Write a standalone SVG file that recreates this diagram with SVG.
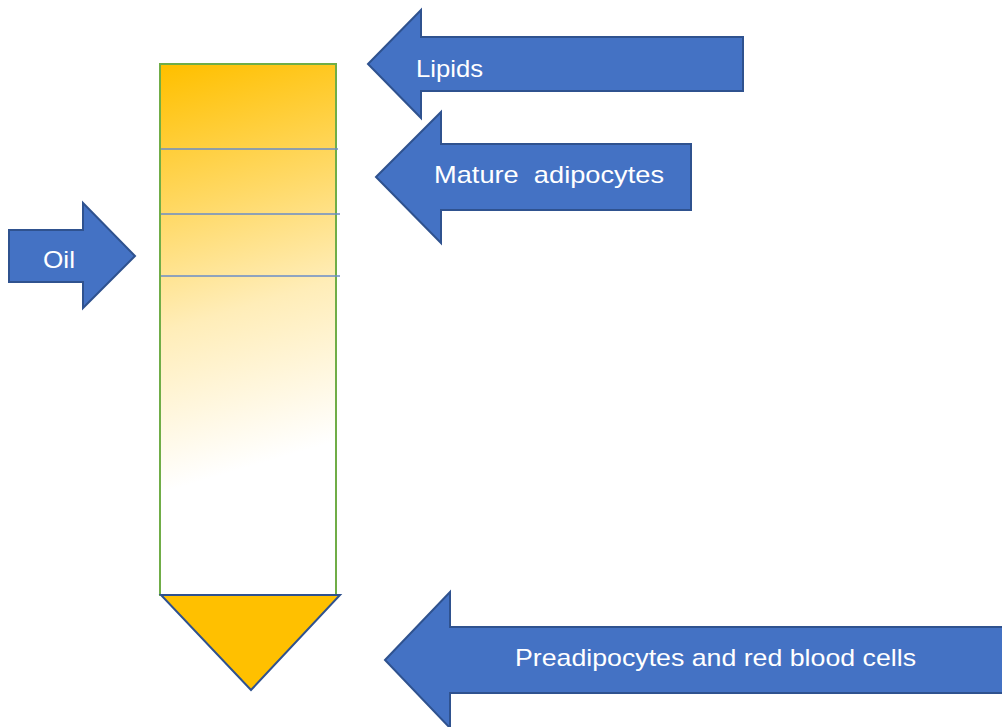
<svg xmlns="http://www.w3.org/2000/svg" width="1002" height="727" viewBox="0 0 1002 727">
<style>
.arrow{fill:#4472C4;stroke:#2F528F;stroke-width:2}
.lbl{fill:#fff;font-family:"Liberation Sans","Open Sans",sans-serif;font-size:24px}
.layer{stroke:#6A8CC8;stroke-width:1.5}
</style>
<defs>
<linearGradient id="tubeGrad" gradientUnits="userSpaceOnUse" x1="175" y1="64" x2="290" y2="455">
<stop offset="0" stop-color="#FFC000"/>
<stop offset="0.35" stop-color="#FFD966"/>
<stop offset="0.62" stop-color="#FFEDB8"/>
<stop offset="1" stop-color="#FFFFFF"/>
</linearGradient>
</defs>
<g id="tube">
<rect x="160" y="64" width="176" height="531" fill="url(#tubeGrad)" stroke="#70AD47" stroke-width="2"/>
<line class="layer" x1="161" y1="149" x2="338" y2="149"/>
<line class="layer" x1="161" y1="214" x2="340" y2="214"/>
<line class="layer" x1="161" y1="276" x2="340" y2="276"/>
</g>
<g id="pellet">
<polygon points="161,595 340,595 251,690" fill="#FFC000" stroke="#2F528F" stroke-width="2"/>
</g>
<g id="connectors">
<g id="lipids">
<polygon class="arrow" points="368,64 421,10 421,37 743,37 743,91 421,91 421,118"/>
<text class="lbl" x="416" y="77" textLength="67" lengthAdjust="spacingAndGlyphs">Lipids</text>
</g>
<g id="mature">
<polygon class="arrow" points="376,177 441,112 441,144 691,144 691,210 441,210 441,243"/>
<text class="lbl" x="434" y="183" textLength="230" lengthAdjust="spacingAndGlyphs" xml:space="preserve">Mature  adipocytes</text>
</g>
<g id="oil">
<polygon class="arrow" points="9,230 83,230 83,203 135,256 83,308 83,282 9,282"/>
<text class="lbl" x="43" y="268" textLength="32" lengthAdjust="spacingAndGlyphs">Oil</text>
</g>
<g id="preadipocytes">
<polygon class="arrow" points="385,660 450,592 450,627 1010,627 1010,693 450,693 450,728"/>
<text class="lbl" x="515" y="666" textLength="401" lengthAdjust="spacingAndGlyphs">Preadipocytes and red blood cells</text>
</g>
</g>
</svg>
